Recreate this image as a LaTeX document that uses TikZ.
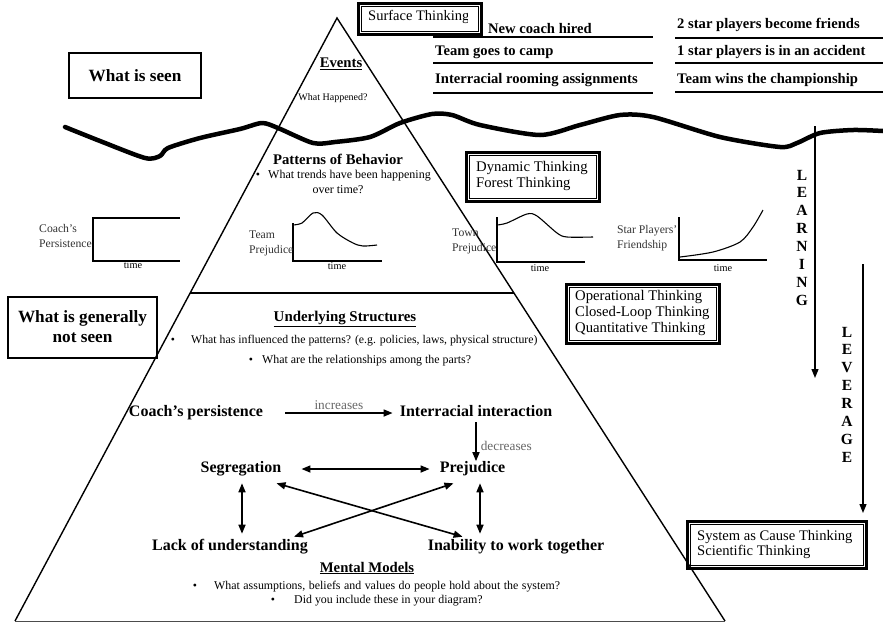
\documentclass[tikz,border=0pt]{standalone}
\usepackage{fontspec}
\setmainfont{Liberation Serif}
\usetikzlibrary{arrows.meta}
\newcommand\fsz[2]{\fontsize{#1}{#2}\selectfont}
\tikzset{
  tri/.style={line width=1.4pt},
  evt/.style={font=\bfseries\fsz{14.6}{16}, anchor=west, inner sep=0pt},
  evline/.style={line width=1.8pt},
  outerbox/.style={draw, line width=3pt, inner sep=0pt},
  innerbox/.style={draw, line width=0.9pt},
  boxtext/.style={font=\fsz{14.7}{16}, align=left, anchor=west, inner sep=0pt},
  head/.style={font=\bfseries\fsz{14.7}{16}, inner sep=0pt},
  small/.style={font=\fsz{12}{13}, inner sep=0pt},
  var/.style={font=\bfseries\fsz{16}{18}, inner sep=0pt, text height=11pt, text depth=3.2pt},
  tipA/.tip={Triangle[length=9pt,width=7pt]},
  link/.style={line width=1.6pt, -tipA},
  dlink/.style={line width=1.6pt, tipA-tipA},
  axis/.style={line width=1.3pt},
  curve/.style={line width=1.1pt},
  glabel/.style={font=\fsz{11.7}{15}, align=left, anchor=west, inner sep=0pt, text=black!80},
  timel/.style={font=\fsz{10.3}{12}, inner sep=0pt},
  letter/.style={font=\bfseries\fsz{15.5}{17}, inner sep=0pt},
  linklabel/.style={font=\fsz{13.3}{14}, text=black!60, inner sep=0pt},
  bigbox/.style={draw, font=\bfseries\fsz{17.2}{20}, align=center, inner sep=0pt},
  guide/.style={line width=1.3pt, -{Triangle[length=9pt,width=7pt]}},
}
\begin{document}
\begin{tikzpicture}[x=1pt,y=-1pt]
\useasboundingbox (0,0) rectangle (883,622);

% pyramid
\coordinate (apex) at (337,18);
\coordinate (bl) at (15,621);
\coordinate (br) at (725,621);
\draw[tri] (bl) -- (apex) -- (br);
\draw[line width=0.8pt, black!70] (bl) -- (br);
\coordinate (midl) at (190,293);
\coordinate (midr) at (514,293);
\draw[tri] (midl) -- (midr);

% wavy waterline
\draw[line width=4.5pt, line cap=round, line join=round]
  plot[smooth, tension=0.45] coordinates {(65,127) (100,141) (145,158) (160,156) (168,148) (200,138) (240,129) (262,123) (278,128) (313,143) (335,142) (370,137) (400,123) (432,114) (452,115) (480,125) (540,135) (580,125) (620,115) (653,117) (720,137) (780,147) (797,143) (820,133) (853,130) (883,131)};

% events list
\node[evt] (e1) at (488,29) {New coach hired};
\node[evt] (e2) at (435,52) {Team goes to camp};
\node[evt] (e3) at (435,80) {Interracial rooming assignments};
\node[evt] (e4) at (677,25) {2 star players become friends};
\node[evt] (e5) at (677,52) {1 star players is in an accident};
\node[evt] (e6) at (677,80) {Team wins the championship};
\draw[evline] (433,37) -- (653,37);
\draw[evline] (433,63) -- (653,63);
\draw[evline] (433,93) -- (653,93);
\draw[evline] (675,38) -- (883,38);
\draw[evline] (675,63) -- (883,63);
\draw[evline] (675,92) -- (883,92);

% surface thinking box
\node[outerbox, minimum width=123pt, minimum height=31pt] (surf) at (419.5,18.5) {};
\draw[innerbox] ([shift={(4.5pt,-4.5pt)}]surf.north west) rectangle ([shift={(-4.5pt,4.5pt)}]surf.south east);
\begin{scope}
  \clip (363,6) rectangle (467,31);
  \node[boxtext, font=\fsz{14.5}{15}] (surft) at (368,17) {Surface Thinking};
\end{scope}

% left boxes
\node[bigbox, line width=1.5pt, minimum width=132pt, minimum height=45pt] (seen) at (135,75.5) {What is seen};
\node[bigbox, line width=2pt, minimum width=149pt, minimum height=61pt] (notseen) at (82.5,327) {What is generally\\not seen};

% events level
\node[head] (events) at (341,64) {\underline{Events}};
\node[font=\fsz{10}{12}, inner sep=0pt] (what) at (333,98) {What Happened?};

% patterns level
\node[head] (patterns) at (338,159) {Patterns of Behavior};
\node[small] (pb) at (258,176) {\textbullet};
\node[small, anchor=west] (pt1) at (268,176) {What trends have been happening};
\node[small] (pt2) at (338,190) {over time?};

% dynamic thinking box
\node[outerbox, minimum width=133pt, minimum height=49pt] (dyn) at (532.5,176.5) {};
\draw[innerbox] ([shift={(4.5pt,-4.5pt)}]dyn.north west) rectangle ([shift={(-4.5pt,4.5pt)}]dyn.south east);
\node[boxtext] (dynt) at (476,175.5) {Dynamic Thinking\\Forest Thinking};

% graphs
\draw[axis] (93,217) -- (93,261) -- (180,261);
\draw[curve] (93,218) -- (180,218);
\node[glabel] (cpl) at (39,236) {Coach's\\Persistence};
\node[timel] (ct) at (133,265) {time};

\draw[axis] (293,223) -- (293,261) -- (382,261);
\draw[curve] plot[smooth] coordinates {(293,225) (302,223) (313,213) (322,215) (337,233) (353,243) (363,246) (377,245)};
\node[glabel] (tpl) at (249,243) {Team\\Prejudice};
\node[timel] (tt) at (337,266) {time};

\draw[axis] (497,217) -- (497,262) -- (585,262);
\draw[curve] plot[smooth] coordinates {(497,225) (507,223) (527,214) (537,216) (557,233) (567,237) (593,237)};
\node[glabel] (wpl) at (452,241) {Town\\Prejudice};
\node[timel] (wt) at (540,268) {time};

\draw[axis] (679,217) -- (679,260) -- (767,260);
\draw[curve] plot[smooth] coordinates {(680,257) (713,252) (740,242) (753,227) (763,210)};
\node[glabel] (spl) at (617,238) {Star Players'\\Friendship};
\node[timel] (st) at (723,268) {time};

% operational box
\node[outerbox, minimum width=153pt, minimum height=59pt] (oper) at (642.5,313.5) {};
\draw[innerbox] ([shift={(4.5pt,-4.5pt)}]oper.north west) rectangle ([shift={(-4.5pt,4.5pt)}]oper.south east);
\node[boxtext] (opert) at (575,313) {Operational Thinking\\Closed-Loop Thinking\\Quantitative Thinking};

% system box
\node[outerbox, minimum width=179pt, minimum height=47pt] (sys) at (776.5,544.5) {};
\draw[innerbox] ([shift={(4.5pt,-4.5pt)}]sys.north west) rectangle ([shift={(-4.5pt,4.5pt)}]sys.south east);
\node[boxtext, font=\fsz{14.6}{15}] (syst) at (697,544.5) {System as Cause Thinking\\Scientific Thinking};

% learning / leverage
\coordinate (learnTop) at (815,126);
\coordinate (learnEnd) at (815,378);
\draw[guide] (learnTop) -- (learnEnd);
\foreach \l [count=\i from 0] in {L,E,A,R,N,I,N,G}
  \node[letter] (lrn\i) at (802,{175+17.9*\i}) {\l};
\coordinate (levTop) at (863,264);
\coordinate (levEnd) at (863,513);
\draw[guide] (levTop) -- (levEnd);
\foreach \l [count=\i from 0] in {L,E,V,E,R,A,G,E}
  \node[letter] (lev\i) at (847,{332+17.9*\i}) {\l};

% underlying structures
\node[head, font=\bfseries\fsz{14.9}{16}] (under) at (345,319) {\underline{Underlying Structures}};
\node[small, font=\fsz{11.8}{13}] (ub1) at (173,341) {\textbullet};
\node[small, font=\fsz{11.8}{13}, anchor=west] (u1) at (191,341) {What has influenced the patterns? (e.g. policies, laws, physical structure)};
\node[small, font=\fsz{11.9}{13}] (ub2) at (251,361) {\textbullet};
\node[small, font=\fsz{11.9}{13}, anchor=west] (u2) at (262,361) {What are the relationships among the parts?};

% causal diagram
\node[var] (coach) at (196,413) {Coach's persistence};
\node[var] (inter) at (476,413) {Interracial interaction};
\node[var] (seg) at (241,469) {Segregation};
\node[var] (prej) at (472.5,469) {Prejudice};
\node[var] (lack) at (230,547) {Lack of understanding};
\node[var] (inab) at (516,547) {Inability to work together};

\draw[link] ([xshift=22pt]coach.east) -- ([xshift=-7pt]inter.west)
  node[midway, above=3pt, linklabel] (incl) {increases};
\draw[link] ([yshift=-2pt]inter.south) -- ([yshift=0.5pt]inter.south |- prej.north)
  node[pos=0.6, right=4pt, linklabel] (decl) {decreases};
\draw[dlink] ([xshift=20pt]seg.east) -- ([xshift=-10pt]prej.west);
\draw[dlink] ([xshift=1pt,yshift=-7pt]seg.south) -- ([xshift=1pt,yshift=6pt]seg.south |- lack.north);
\draw[dlink] ([xshift=7.5pt,yshift=-7pt]prej.south) -- ([xshift=7.5pt,yshift=6pt]prej.south |- inab.north);
\draw[dlink] ([xshift=-5pt,yshift=-7pt]seg.south east) -- ([xshift=35pt,yshift=3pt]inab.north west);
\draw[dlink] ([xshift=-19pt,yshift=-7pt]prej.south) -- ([xshift=-14pt,yshift=3pt]lack.north east);

% mental models
\node[head] (mental) at (367,568) {\underline{Mental Models}};
\node[small, font=\fsz{11.9}{13}] (mb1) at (195,587) {\textbullet};
\node[small, font=\fsz{11.9}{13}, anchor=west] (m1) at (214,587) {\makebox[346pt][s]{What assumptions, beliefs and values do people hold about the system?}};
\node[small, font=\fsz{11.9}{13}] (mb2) at (273,601) {\textbullet};
\node[small, font=\fsz{11.9}{13}, anchor=west] (m2) at (294,601) {Did you include these in your diagram?};
\end{tikzpicture}
\end{document}
